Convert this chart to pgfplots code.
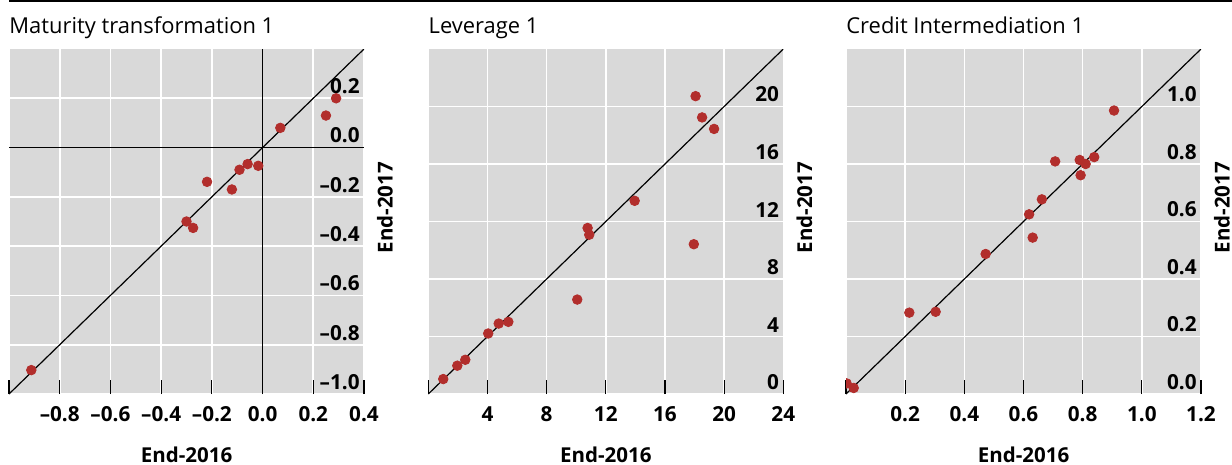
\documentclass[border=0pt]{standalone}
\usepackage{fontspec}
\setmainfont{Open Sans}
\usepackage{pgfplots}
\pgfplotsset{compat=1.18}
\definecolor{bgc}{RGB}{217,217,217}
\definecolor{dotc}{RGB}{178,46,44}
\pgfplotsset{
  panel/.style={
    scale only axis, width=177.5bp, height=172.5bp,
    anchor=north west,
    axis background/.style={fill=bgc},
    axis line style={draw=none},
    grid=major, major grid style={white, line width=0.8bp},
    xtick pos=bottom, tick align=inside, major tick length=7bp,
    xtick style={black, line width=0.6bp},
    ytick style={draw=none},
    yticklabel pos=right,
    enlargelimits=false,
    clip marker paths=true,
    tick label style={font=\bfseries\fontsize{10.4}{12}\selectfont},
    yticklabel style={anchor=south east, inner sep=2bp},
    xticklabel style={anchor=center, yshift=-10bp},
    xlabel style={at={(rel axis cs:0.5,0)}, anchor=center, inner sep=0pt, yshift=-30.5bp, font=\bfseries\fontsize{10.3}{12}\selectfont},
    ylabel style={at={(rel axis cs:1,0.54)}, anchor=center, inner sep=0pt, yshift=-10.5bp, font=\bfseries\fontsize{10.3}{12}\selectfont},
    xlabel={End-2016}, ylabel={End-2017},
    title style={at={(rel axis cs:0,1)}, anchor=base west, inner sep=0pt, yshift=1.87bp, font=\fontsize{11}{13}\selectfont},
  },
  dots/.style={only marks, mark=*, mark size=2.4bp, color=dotc},
  diag/.style={black, line width=0.6bp},
}
\begin{document}
\begin{tikzpicture}
\useasboundingbox (0,0) rectangle (616bp,-232.5bp);
\fill[black] (4.5bp,0) rectangle (616bp,-1.2bp);
% Panel 1
\begin{axis}[panel, at={(4.5bp,-24.5bp)},
  xmin=-1, xmax=0.4, ymin=-1, ymax=0.4,
  xtick={-1,-0.8,-0.6,-0.4,-0.2,0,0.2,0.4},
  xticklabels={,–0.8,–0.6,–0.4,–0.2,0.0,0.2,0.4},
  ytick={-1,-0.8,-0.6,-0.4,-0.2,0,0.2},
  yticklabels={–1.0,–0.8,–0.6,–0.4,–0.2,0.0,0.2},
  title={Maturity transformation 1}]
\addplot[diag] coordinates {(0,-1) (0,0.4)};
\addplot[diag] coordinates {(-1,0) (0.4,0)};
\addplot[diag] coordinates {(-1,-1) (0.4,0.4)};
\addplot[dots] coordinates {
(0.29,0.20) (0.25,0.13) (0.07,0.08) (-0.059,-0.067) (-0.091,-0.09)
(-0.017,-0.074) (-0.219,-0.139) (-0.121,-0.17) (-0.30,-0.30)
(-0.274,-0.326) (-0.912,-0.903)};
\end{axis}
% Panel 2
\begin{axis}[panel, at={(214.15bp,-24.5bp)},
  xmin=0, xmax=24, ymin=0, ymax=24,
  xtick={0,4,8,12,16,20,24},
  xticklabels={,4,8,12,16,20,24},
  ytick={0,4,8,12,16,20},
  yticklabels={0,4,8,12,16,20},
  title={Leverage 1}]
\addplot[diag] coordinates {(0,0) (24,24)};
\addplot[dots] coordinates {
(18.07,20.72) (18.51,19.24) (19.32,18.44) (13.95,13.44) (10.77,11.55)
(10.88,11.08) (17.95,10.42) (10.07,6.57) (5.41,5.02) (4.76,4.90)
(4.05,4.21) (2.5,2.38) (1.96,1.97) (1.01,1.04)};
\end{axis}
% Panel 3
\begin{axis}[panel, at={(423bp,-24.5bp)},
  xmin=0, xmax=1.2, ymin=0, ymax=1.2,
  xtick={0,0.2,0.4,0.6,0.8,1.0,1.2},
  xticklabels={,0.2,0.4,0.6,0.8,1.0,1.2},
  ytick={0,0.2,0.4,0.6,0.8,1.0},
  yticklabels={0.0,0.2,0.4,0.6,0.8,1.0},
  title={Credit Intermediation 1}]
\addplot[diag] coordinates {(0,0) (1.2,1.2)};
\addplot[dots] coordinates {
(0.906,0.986) (0.707,0.809) (0.79,0.814) (0.81,0.80) (0.839,0.824)
(0.793,0.761) (0.662,0.677) (0.619,0.625) (0.631,0.544) (0.472,0.487)
(0.214,0.283) (0.303,0.286) (0.002,0.037) (0.026,0.021)};
\end{axis}
\end{tikzpicture}
\end{document}
